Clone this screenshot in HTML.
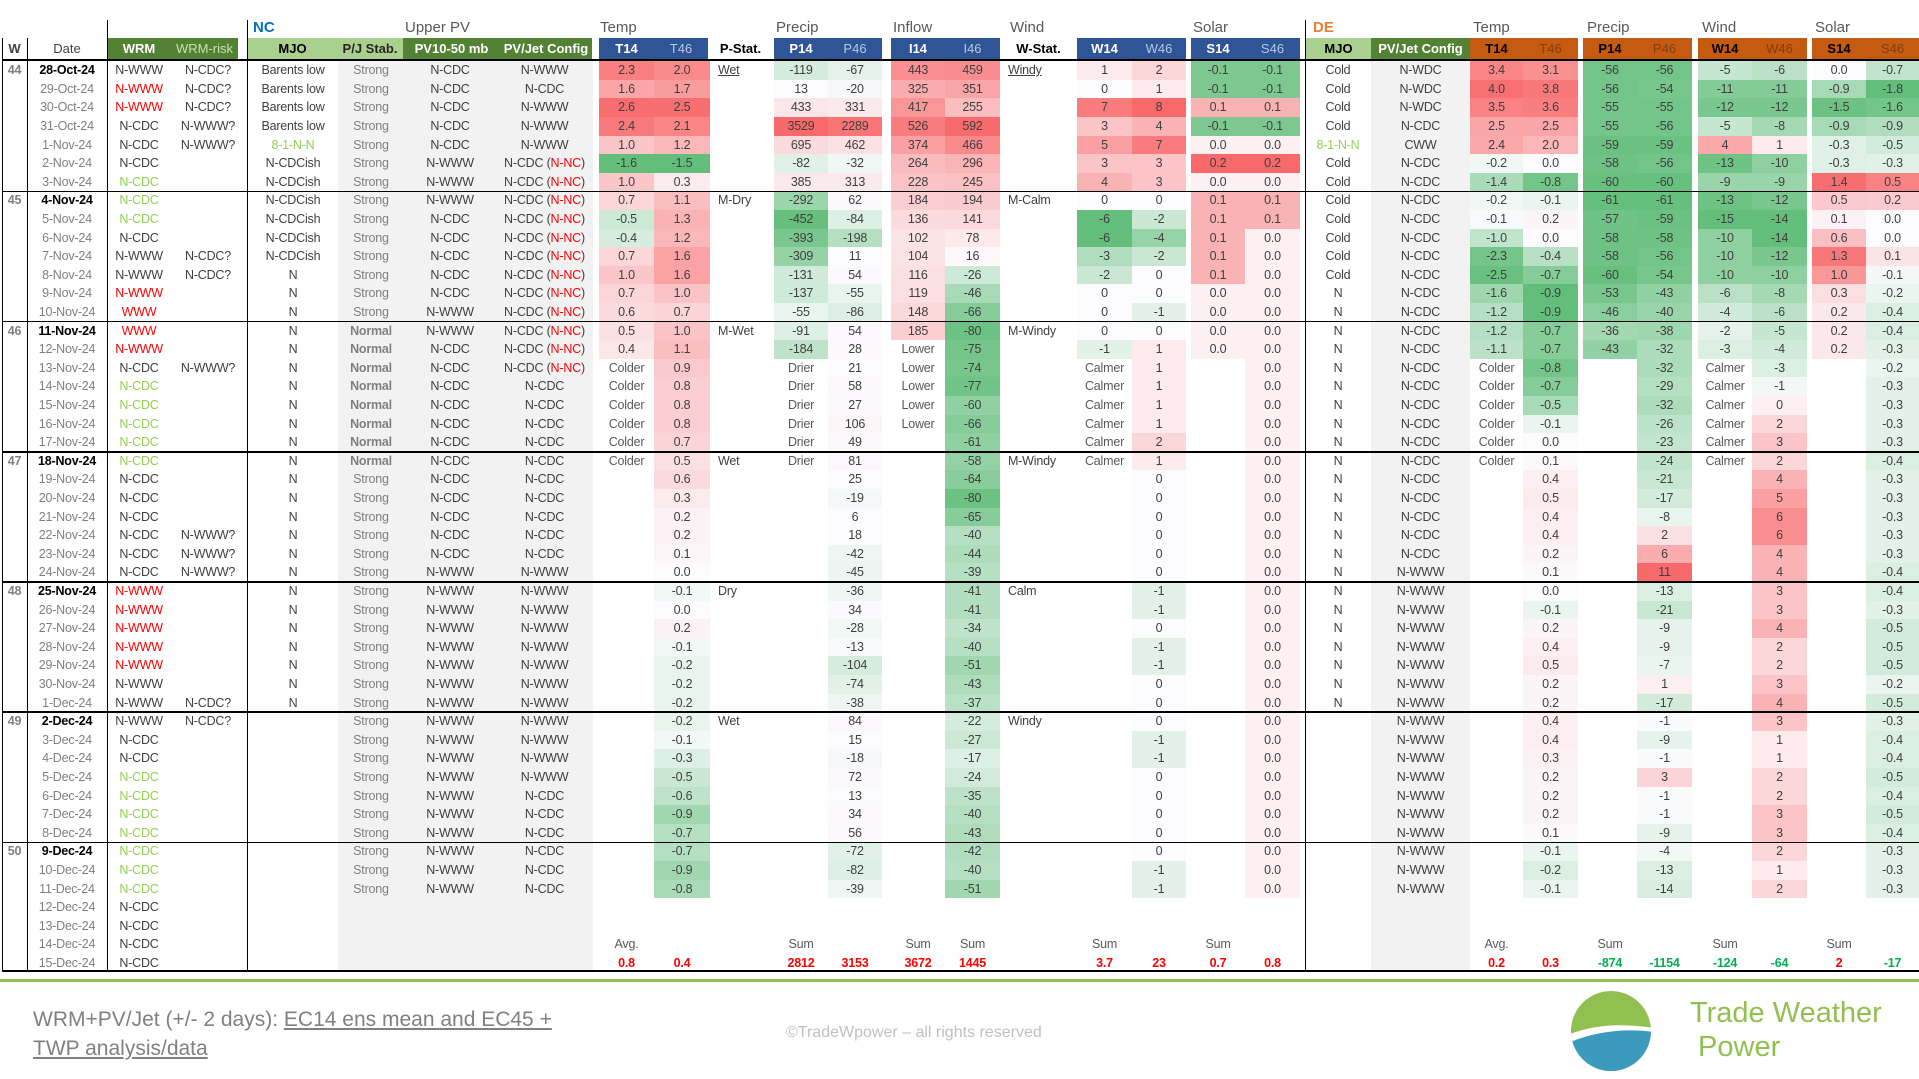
<!DOCTYPE html>
<html><head><meta charset="utf-8">
<style>
body{margin:0;background:#fff;}
#c{position:relative;width:1919px;height:1079px;overflow:hidden;font-family:"Liberation Sans",sans-serif;color:#404040;}
.a{position:absolute;box-sizing:border-box;}
.t{position:absolute;box-sizing:border-box;text-align:center;white-space:nowrap;font-size:12.5px;line-height:18.6px;letter-spacing:-0.2px;}
.g{position:absolute;font-size:15px;color:#595959;}
.h{position:absolute;box-sizing:border-box;text-align:center;font-size:13px;line-height:21px;font-weight:bold;white-space:nowrap;}
</style></head><body><div id="c"></div>
<script>
var C=document.getElementById('c'),H='';
var R0=61.2,RH=18.6,N=49;
function box(x,y,w,h,st){H+='<div class="a" style="left:'+x+'px;top:'+y+'px;width:'+w+'px;height:'+h+'px;'+st+'"></div>';}
function txt(x0,x1,r,s,st){H+='<div class="t" style="left:'+x0+'px;width:'+(x1-x0)+'px;top:'+(R0+r*RH)+'px;'+(st||'')+'">'+s+'</div>';}
var mon=['Oct','Nov','Dec'],dates=[];
for(var d=28;d<=31;d++)dates.push(d+'-Oct-24');for(d=1;d<=30;d++)dates.push(d+'-Nov-24');for(d=1;d<=15;d++)dates.push(d+'-Dec-24');
// gray bg
box(338,59.5,255,912,'background:#f2f2f2');box(1371,59.5,99,912,'background:#f2f2f2');
function mix(v,pm,nm,zt){var f,c;if(v>0||(v==0&&zt)){f=v>0?Math.min(1,v/pm):0.08;c=[248,105,107];}else{f=Math.min(1,-v/nm);c=[99,190,123];}
var w=[252,252,255];return 'rgb('+[0,1,2].map(function(i){return Math.round(w[i]+(c[i]-w[i])*f)}).join(',')+')';}
function P(s){return s.split(',');}
function numcol(x0,x1,arr,pm,nm,zt,dec){arr.forEach(function(s,i){if(s===''||s===undefined)return;var v=parseFloat(s);
 if(isNaN(v)){txt(x0,x1,i,s,'color:#595959');return;}
 box(x0,R0+i*RH,x1-x0,RH,'background:'+mix(v,pm,nm,zt));txt(x0,x1,i,s);});}
function rep(s,n){var a=[];for(var i=0;i<n;i++)a.push(s);return a;}
// Data NC
numcol(599,654,P('2.3,1.6,2.6,2.4,1.0,-1.6,1.0,0.7,-0.5,-0.4,0.7,1.0,0.7,0.6,0.5,0.4').concat(rep('Colder',6)),2.7,1.6);
numcol(654,710,P('2.0,1.7,2.5,2.1,1.2,-1.5,0.3,1.1,1.3,1.2,1.6,1.6,1.0,0.7,1.0,1.1,0.9,0.8,0.8,0.8,0.7,0.5,0.6,0.3,0.2,0.2,0.1,0.0,-0.1,0.0,0.2,-0.1,-0.2,-0.2,-0.2,-0.2,-0.1,-0.3,-0.5,-0.6,-0.9,-0.7,-0.7,-0.9,-0.8'),2.6,1.5,false);
numcol(774,828,P('-119,13,433,3529,695,-82,385,-292,-452,-393,-309,-131,-137,-55,-91,-184').concat(rep('Drier',6)),3000,460);
numcol(828,882,P('-67,-20,331,2289,462,-32,313,62,-84,-198,11,54,-55,-86,54,28,21,58,27,106,49,81,25,-19,6,18,-42,-45,-36,34,-28,-13,-104,-74,-38,84,15,-18,72,13,34,56,-72,-82,-39'),2500,420);
numcol(891,945,P('443,325,417,526,374,264,228,184,136,102,104,116,119,148,185').concat(rep('Lower',5)),600,85);
numcol(945,1000,P('459,351,255,592,466,296,245,194,141,78,16,-26,-46,-66,-80,-75,-74,-77,-60,-66,-61,-58,-64,-80,-65,-40,-44,-39,-41,-41,-34,-40,-51,-43,-37,-22,-27,-17,-24,-35,-40,-43,-42,-40,-51'),600,85);
numcol(1077,1132,P('1,0,7,3,5,3,4,0,-6,-6,-3,-2,0,0,0,-1').concat(rep('Calmer',6)),8,6);
numcol(1132,1186,P('2,1,8,4,7,3,3,0,-2,-4,-2,0,0,-1,0,1,1,1,1,1,2,1,0,0,0,0,0,0,-1,-1,0,-1,-1,0,0,0,-1,-1,0,0,0,0,0,-1,-1'),8,6);
numcol(1191,1245,P('-0.1,-0.1,0.1,-0.1,0.0,0.2,0.0,0.1,0.1,0.1,0.1,0.1,0.0,0.0,0.0,0.0'),0.2,0.12,true);
numcol(1245,1300,P('-0.1,-0.1,0.1,-0.1,0.0,0.2,0.0,0.1,0.1,0.0,0.0,0.0,0.0,0.0').concat(rep('0.0',31)),0.2,0.12,true);
// DE
numcol(1470,1523,P('3.4,4.0,3.5,2.5,2.4,-0.2,-1.4,-0.2,-0.1,-1.0,-2.3,-2.5,-1.6,-1.2,-1.2,-1.1').concat(rep('Colder',6)),4.2,2.6);
numcol(1523,1578,P('3.1,3.8,3.6,2.5,2.0,0.0,-0.8,-0.1,0.2,0.0,-0.4,-0.7,-0.9,-0.9,-0.7,-0.7,-0.8,-0.7,-0.5,-0.1,0.0,0.1,0.4,0.5,0.4,0.4,0.2,0.1,0.0,-0.1,0.2,0.4,0.5,0.2,0.2,0.4,0.4,0.3,0.2,0.2,0.2,0.1,-0.1,-0.2,-0.1'),4.2,0.9);
numcol(1583,1637,P('-56,-56,-55,-55,-59,-58,-60,-61,-57,-58,-58,-60,-53,-46,-36,-43'),11,62);
numcol(1637,1692,P('-56,-54,-55,-56,-59,-56,-60,-61,-59,-58,-56,-54,-43,-40,-38,-32,-32,-29,-32,-26,-23,-24,-21,-17,-8,2,6,11,-13,-21,-9,-9,-7,1,-17,-1,-9,-1,3,-1,-1,-9,-4,-13,-14'),11,62);
numcol(1698,1752,P('-5,-11,-12,-5,4,-13,-9,-13,-15,-10,-10,-10,-6,-4,-2,-3').concat(rep('Calmer',6)),7,14);
numcol(1752,1807,P('-6,-11,-12,-8,1,-10,-9,-12,-14,-14,-12,-10,-8,-6,-5,-4,-3,-1,0,2,3,2,4,5,6,6,4,4,3,3,4,2,2,3,4,3,1,1,2,2,3,3,2,1,2'),8,14,true);
numcol(1812,1866,P('0.0,-0.9,-1.5,-0.9,-0.3,-0.3,1.4,0.5,0.1,0.6,1.3,1.0,0.3,0.2,0.2,0.2'),1.45,1.6);
numcol(1866,1919,P('-0.7,-1.8,-1.6,-0.9,-0.5,-0.3,0.5,0.2,0.0,0.0,0.1,-0.1,-0.2,-0.4,-0.4,-0.3,-0.2,-0.3,-0.3,-0.3,-0.3,-0.4,-0.3,-0.3,-0.3,-0.3,-0.3,-0.4,-0.4,-0.3,-0.5,-0.5,-0.5,-0.2,-0.5,-0.3,-0.4,-0.4,-0.5,-0.4,-0.5,-0.4,-0.3,-0.3,-0.3'),0.6,1.8);
// left text columns
var GR='color:#92d050',RD='color:#ff0000';
var wrm=[['N-WWW',''],['N-WWW',RD],['N-WWW',RD],['N-CDC',''],['N-CDC',''],['N-CDC',''],['N-CDC',GR],
['N-CDC',GR],['N-CDC',GR],['N-CDC',''],['N-WWW',''],['N-WWW',''],['N-WWW',RD],['WWW',RD],
['WWW',RD],['N-WWW',RD],['N-CDC',''],['N-CDC',GR],['N-CDC',GR],['N-CDC',GR],['N-CDC',GR],
['N-CDC',GR],['N-CDC',''],['N-CDC',''],['N-CDC',''],['N-CDC',''],['N-CDC',''],['N-CDC',''],
['N-WWW',RD],['N-WWW',RD],['N-WWW',RD],['N-WWW',RD],['N-WWW',RD],['N-WWW',''],['N-WWW',''],
['N-WWW',''],['N-CDC',''],['N-CDC',''],['N-CDC',GR],['N-CDC',GR],['N-CDC',GR],['N-CDC',GR],
['N-CDC',GR],['N-CDC',GR],['N-CDC',GR],['N-CDC',''],['N-CDC',''],['N-CDC',''],['N-CDC','']];
var risk={0:'N-CDC?',1:'N-CDC?',2:'N-CDC?',3:'N-WWW?',4:'N-WWW?',10:'N-CDC?',11:'N-CDC?',16:'N-WWW?',25:'N-WWW?',26:'N-WWW?',27:'N-WWW?',34:'N-CDC?',35:'N-CDC?'};
for(var i=0;i<N;i++){
 var wk=i%7==0;
 if(wk)txt(2,27,i,String(44+i/7),'color:#808080;font-weight:bold');
 txt(27,107,i,dates[i],wk?'color:#000;font-weight:bold':'color:#7f7f7f');
 txt(107,171,i,wrm[i][0],wrm[i][1]);
 if(risk[i])txt(171,245,i,risk[i]);
 var mj=i<4?'Barents low':i==4?'8-1-N-N':i<11?'N-CDCish':i<35?'N':'';
 if(mj)txt(248,338,i,mj,i==4?GR:'');
 if(i<45){var pj=(i>=14&&i<=21)?'Normal':'Strong';txt(338,404,i,pj,pj=='Normal'?'color:#808080;font-weight:bold':'color:#808080');
  var pv=i<5?'N-CDC':(i<8?'N-WWW':(i<13?'N-CDC':(i<15?'N-WWW':(i<27?'N-CDC':'N-WWW'))));txt(404,496,i,pv);
  var pj2=i==0?'N-WWW':i==1?'N-CDC':i<5?'N-WWW':i<17?'N-CDC (<span style="color:#f00">N-NC</span>)':i<27?'N-CDC':i<39?'N-WWW':'N-CDC';txt(496,593,i,pj2);
  var dm=i<4?'Cold':i==4?'8-1-N-N':i<12?'Cold':i<35?'N':'';if(dm)txt(1305,1371,i,dm,i==4?GR:'');
  var dp=i<3?'N-WDC':i==3?'N-CDC':i==4?'CWW':i<27?'N-CDC':'N-WWW';txt(1371,1470,i,dp);}
}
var ps={0:'<u>Wet</u>',7:'M-Dry',14:'M-Wet',21:'Wet',28:'Dry',35:'Wet'};for(var k in ps)txt(712,770,+k,ps[k],'text-align:left;padding-left:6px');
var ws={0:'<u>Windy</u>',7:'M-Calm',14:'M-Windy',21:'M-Windy',28:'Calm',35:'Windy'};for(k in ws)txt(1003,1077,+k,ws[k],'text-align:left;padding-left:5px');
// sums
function sum(x0,x1,lab,val,col){if(lab)txt(x0,x1,47,lab,'color:#595959');txt(x0,x1,48,val,'font-weight:bold;color:'+col);}
var r='#ff0000',gn='#00b050';
sum(599,654,'Avg.','0.8',r);sum(654,710,'','0.4',r);sum(774,828,'Sum','2812',r);sum(828,882,'','3153',r);sum(891,945,'Sum','3672',r);sum(945,1000,'Sum','1445',r);
sum(1077,1132,'Sum','3.7',r);sum(1132,1186,'','23',r);sum(1191,1245,'Sum','0.7',r);sum(1245,1300,'','0.8',r);
sum(1470,1523,'Avg.','0.2',r);sum(1523,1578,'','0.3',r);sum(1583,1637,'Sum','-874',gn);sum(1637,1692,'','-1154',gn);sum(1698,1752,'Sum','-124',gn);sum(1752,1807,'','-64',gn);sum(1812,1866,'Sum','2',r);sum(1866,1919,'','-17',gn);
// headers
function hd(x0,x1,s,bg,col){H+='<div class="h" style="left:'+x0+'px;width:'+(x1-x0)+'px;top:38px;height:21px;background:'+bg+';color:'+col+'">'+s+'</div>';}
var DG='#548235',LG='#a9d08e',BL='#2f5597',OR='#c55a11';
hd(2,27,'W','transparent','#404040');hd(27,107,'Date','transparent','#404040');H=H.replace(/(>Date<)/,'$1');
hd(107,171,'WRM',DG,'#fff');hd(171,238,'<span style="font-weight:normal">WRM-risk</span>',DG,'#c6e0b4');
hd(248,337,'MJO',LG,'#000');hd(337,403,'P/J Stab.',LG,'#262626');hd(403,500,'PV10-50 mb',DG,'#fff');hd(500,592,'PV/Jet Config',DG,'#fff');
hd(599,654,'T14',BL,'#fff');hd(654,708,'<span style="font-weight:normal">T46</span>',BL,'#b4c7e7');
hd(708,773,'P-Stat.','transparent','#000');
hd(774,828,'P14',BL,'#fff');hd(828,882,'<span style="font-weight:normal">P46</span>',BL,'#b4c7e7');
hd(891,945,'I14',BL,'#fff');hd(945,1000,'<span style="font-weight:normal">I46</span>',BL,'#b4c7e7');
hd(1000,1077,'W-Stat.','transparent','#000');
hd(1077,1132,'W14',BL,'#fff');hd(1132,1186,'<span style="font-weight:normal">W46</span>',BL,'#b4c7e7');
hd(1191,1245,'S14',BL,'#fff');hd(1245,1300,'<span style="font-weight:normal">S46</span>',BL,'#b4c7e7');
hd(1306,1371,'MJO',LG,'#000');hd(1371,1470,'PV/Jet Config',DG,'#fff');
hd(1470,1523,'T14',OR,'#000');hd(1523,1578,'<span style="font-weight:normal">T46</span>',OR,'#843c0c');
hd(1583,1637,'P14',OR,'#000');hd(1637,1692,'<span style="font-weight:normal">P46</span>',OR,'#843c0c');
hd(1698,1752,'W14',OR,'#000');hd(1752,1807,'<span style="font-weight:normal">W46</span>',OR,'#843c0c');
hd(1812,1866,'S14',OR,'#000');hd(1866,1919,'<span style="font-weight:normal">S46</span>',OR,'#843c0c');
H=H.replace('>W<','><span style="font-weight:bold">W</span><').replace('>Date<','><span style="font-weight:normal">Date</span><');
function gl(x,s,st){H+='<div class="g" style="left:'+x+'px;top:19px;'+(st||'')+'">'+s+'</div>';}
gl(253,'NC','color:#0070c0;font-weight:bold');gl(405,'Upper PV');gl(600,'Temp');gl(776,'Precip');gl(893,'Inflow');gl(1010,'Wind');gl(1193,'Solar');
gl(1313,'DE','color:#ed7d31;font-weight:bold');gl(1473,'Temp');gl(1587,'Precip');gl(1702,'Wind');gl(1815,'Solar');
// lines
box(2,59,1917,1.5,'background:#000');box(2,970,1917,1.5,'background:#000');
for(var w=1;w<7;w++)box(2,R0+w*7*RH-0.8,1917,1.5,'background:#000');
box(2,38,1.3,933,'background:#000');box(26.5,38,1.3,933,'background:#000');
box(106.5,20,1.3,951,'background:#000');box(247,20,1.3,951,'background:#000');box(1305,20,1.3,951,'background:#000');
box(0,979,1919,3,'background:#92c050');
H+='<div class="a" style="left:33px;top:1005px;font-size:21px;line-height:29px;color:#808080;">WRM+PV/Jet (+/- 2 days): <u>EC14 ens mean and EC45 +</u><br><u>TWP analysis/data</u></div>';
H+='<div class="a" style="left:786px;top:1024px;font-size:16px;color:#c0c0c0;">©TradeWpower – all rights reserved</div>';
H+='<svg class="a" style="left:1568px;top:988px" width="86" height="86" viewBox="0 0 86 86"><defs><clipPath id="cc"><circle cx="43" cy="43" r="40"/></clipPath></defs><g clip-path="url(#cc)"><rect width="86" height="86" fill="#92c050"/><path d="M0 52 Q30 36 86 42 L86 86 L0 86Z" fill="#3b9bbf"/><path d="M0 47 Q35 32 86 40 L86 44 Q40 38 0 55Z" fill="#fff"/></g></svg>';
H+='<div class="a" style="left:1690px;top:996px;font-size:29px;line-height:34px;color:#92c050;">Trade Weather<br>&nbsp;Power</div>';
C.innerHTML=H;
</script></body></html>
